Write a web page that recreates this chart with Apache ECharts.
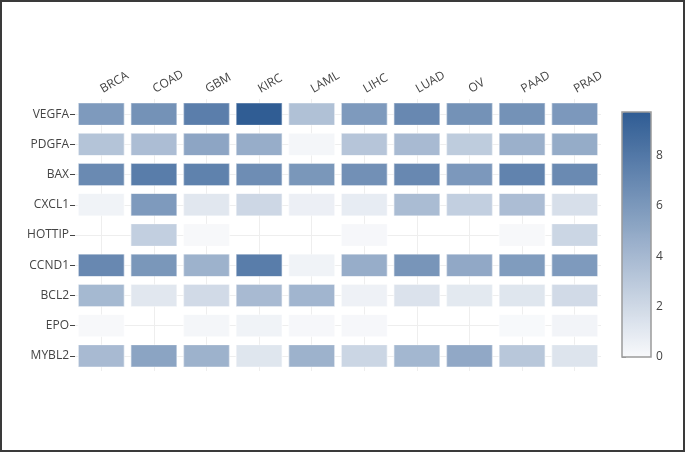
<!DOCTYPE html>
<html>
<head>
<meta charset="utf-8">
<script src="https://cdn.jsdelivr.net/npm/echarts@6/dist/echarts.min.js"></script>
<style>
html,body{margin:0;padding:0;background:#fff;}
#chart{position:absolute;left:0;top:0;width:685px;height:452px;}
#frame{position:absolute;left:0;top:0;width:685px;height:452px;box-sizing:border-box;border:2px solid #3a3a3a;pointer-events:none;}
</style>
</head>
<body>
<div id="chart"></div>
<div id="frame"></div>
<script>
// Categories
const cancers = ['BRCA','COAD','GBM','KIRC','LAML','LIHC','LUAD','OV','PAAD','PRAD'];
const genes = ['VEGFA','PDGFA','BAX','CXCL1','HOTTIP','CCND1','BCL2','EPO','MYBL2'];
// Values per gene (null = no cell)
const VEGFA  = [5.9, 6.4, 7.6, 9.7, 3.5, 5.9, 7.0, 6.4, 6.4, 6.0];
const PDGFA  = [3.3, 3.7, 5.2, 4.7, 0.2, 3.2, 3.9, 2.8, 4.5, 4.8];
const BAX    = [6.9, 7.7, 7.4, 6.7, 6.1, 6.5, 7.0, 6.0, 7.3, 6.9];
const CXCL1  = [0.4, 5.9, 1.1, 2.1, 0.6, 0.8, 3.8, 2.6, 3.7, 1.6];
const HOTTIP = [null, 2.6, 0.05, null, null, 0.1, null, null, 0.05, 2.2];
const CCND1  = [7.0, 6.1, 4.4, 7.7, 0.4, 4.7, 6.2, 5.0, 5.8, 5.9];
const BCL2   = [4.0, 1.1, 1.9, 3.9, 4.2, 0.5, 1.4, 1.0, 1.2, 1.9];
const EPO    = [0.05, null, 0.2, 0.4, 0.1, 0.1, null, null, 0.03, 0.3];
const MYBL2  = [3.9, 5.3, 4.4, 1.2, 4.4, 2.2, 4.1, 5.0, 3.1, 1.3];
const rows = [VEGFA, PDGFA, BAX, CXCL1, HOTTIP, CCND1, BCL2, EPO, MYBL2];
// Colorbar ticks
const cbarMin = 0, cbarMax = 9.74, cbarStep = 2;

const data = [];
rows.forEach((r, yi) => r.forEach((v, xi) => { if (v !== null) data.push([xi, yi, v]); }));

const txt = {color:'#444', fontSize:12, fontFamily:'"Open Sans", sans-serif'};
const chart = echarts.init(document.getElementById('chart'), null, {renderer:'canvas'});
chart.setOption({
  animation:false,
  grid:[
    {left:75, right:84, top:99, bottom:81},
    {left:622, top:112, width:29, height:245, show:true, borderColor:'#9a9a9a', borderWidth:1.5, backgroundColor:'transparent', z:10}
  ],
  xAxis:[
    {type:'category', data:cancers, position:'top', gridIndex:0,
     axisLine:{show:false}, axisTick:{show:false},
     axisLabel:Object.assign({rotate:-30, margin:9, interval:0}, txt),
     splitLine:{show:true, alignWithLabel:true, lineStyle:{color:'#eeeeee', width:1}}},
    {type:'value', gridIndex:1, show:false, min:0, max:1}
  ],
  yAxis:[
    {type:'category', data:genes, inverse:true, gridIndex:0,
     axisLine:{show:false}, axisTick:{show:true, alignWithLabel:true, length:5, lineStyle:{color:'#444'}},
     axisLabel:Object.assign({margin:6, interval:0}, txt),
     splitLine:{show:true, alignWithLabel:true, lineStyle:{color:'#eeeeee', width:1}}},
    {type:'value', gridIndex:1, position:'right', min:cbarMin, max:cbarMax, interval:cbarStep,
     axisLine:{show:false}, axisTick:{show:true, length:4, inside:false, lineStyle:{color:'#9a9a9a'}},
     splitLine:{show:false},
     axisLabel:Object.assign({margin:5, showMaxLabel:false}, txt)}
  ],
  visualMap:{
    type:'continuous', min:cbarMin, max:cbarMax, dimension:2, seriesIndex:0,
    left:622, top:112, itemWidth:29, itemHeight:245, padding:0,
    calculable:false, text:null, showLabel:false, orient:'vertical',
    inRange:{color:['#f8f9fb','#2f5c94']}
  },
  series:[{
    type:'scatter', xAxisIndex:0, yAxisIndex:0, symbol:'rect', symbolSize:[46,22],
    data:data,
    itemStyle:{opacity:1, borderColor:'rgba(255,255,255,0.45)', borderWidth:1},
    emphasis:{disabled:true}
  }]
});
</script>
</body>
</html>
